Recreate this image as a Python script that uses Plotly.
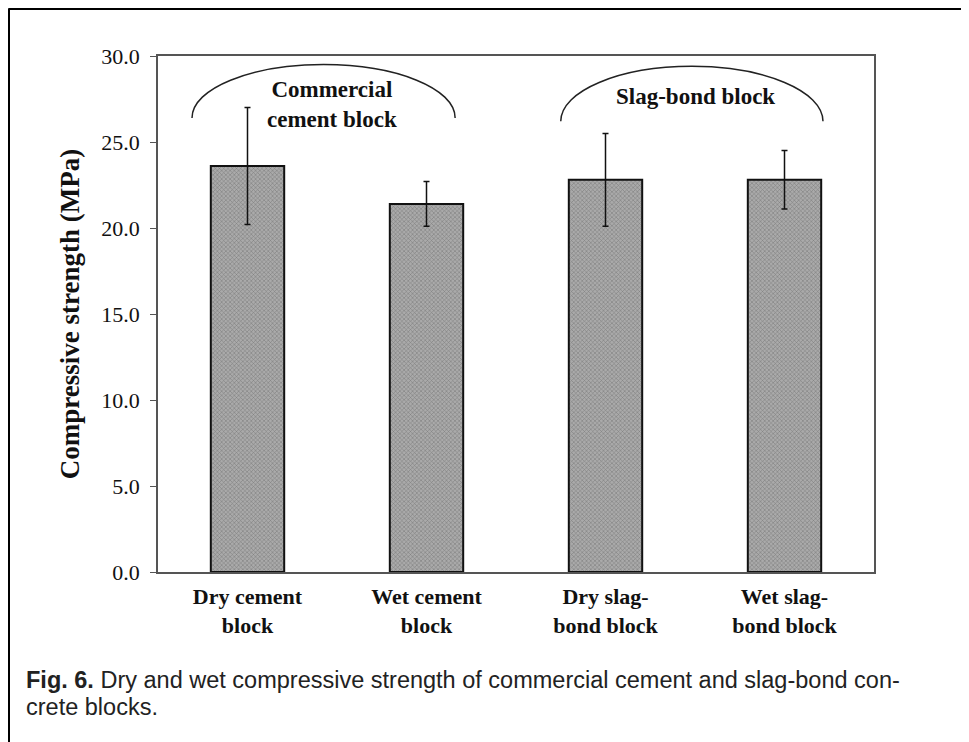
import plotly.graph_objects as go

categories = ["Dry cement<br>block", "Wet cement<br>block", "Dry slag-<br>bond block", "Wet slag-<br>bond block"]
strength = [23.6, 21.4, 22.8, 22.8]
error = [3.4, 1.3, 2.7, 1.7]
y_ticks = [0, 5, 10, 15, 20, 25, 30]
group_labels = ["Commercial<br>cement block", "Slag-bond block"]

W, H = 969, 742
OFF = 8  # page body margin
L, R, T, B = 158 - OFF, 874 - OFF, 56 - OFF, 572 - OFF

def px_x(p):
    return (p - OFF - L) / (R - L)

def px_y(p):
    return (B - (p - OFF)) / (B - T)

xs = list(range(len(categories)))

fig = go.Figure()
fig.add_trace(go.Bar(
    x=xs, y=strength,
    width=0.41,
    marker=dict(color="#aaaaaa", line=dict(color="#111111", width=2),
                pattern=dict(shape="x", size=3, solidity=0.35, fgcolor="#505050", bgcolor="#aaaaaa")),
    error_y=dict(type="data", array=error, visible=True, color="#111111", thickness=1.5, width=3),
    showlegend=False,
))

serif = "Liberation Serif, Times New Roman, serif"

def half_ellipse(x0, x1, yb, yt):
    cx = (x0 + x1) / 2
    rx = (x1 - x0) / 2
    ry = yt - yb
    k = 0.5523
    return (f"M {x0},{yb} C {x0},{yb + k*ry} {cx - k*rx},{yt} {cx},{yt} "
            f"C {cx + k*rx},{yt} {x1},{yb + k*ry} {x1},{yb}")

fx = lambda p: p / (R - L) - L / (R - L)          # figure-pixel x -> paper
fy = lambda p: (B - p) / (B - T)                  # figure-pixel y -> paper

shapes = [
    dict(type="path", xref="x", yref="y", path=half_ellipse(-0.31, 1.16, 26.4, 29.5),
         line=dict(color="#222222", width=1.5)),
    dict(type="path", xref="x", yref="y", path=half_ellipse(1.75, 3.215, 26.2, 29.4),
         line=dict(color="#222222", width=1.5)),
    # outer figure frame (top and left)
    dict(type="line", xref="paper", yref="paper", x0=fx(0.5), x1=fx(W), y0=fy(0.5), y1=fy(0.5),
         line=dict(color="black", width=3)),
    dict(type="line", xref="paper", yref="paper", x0=fx(0.5), x1=fx(0.5), y0=fy(0.5), y1=fy(H),
         line=dict(color="black", width=3)),
]

cap_font = dict(family="Liberation Sans, Arial, sans-serif", size=23.5, color="#222222")
annotations = [
    dict(x=0.47, y=27.2, xref="x", yref="y", text="<b>" + group_labels[0] + "</b>", showarrow=False,
         font=dict(family=serif, size=23, color="#111111"), align="center"),
    dict(x=2.5, y=27.65, xref="x", yref="y", text="<b>" + group_labels[1] + "</b>", showarrow=False,
         font=dict(family=serif, size=23, color="#111111"), align="center"),
    dict(x=px_x(24), y=px_y(680), xref="paper", yref="paper", xanchor="left", yanchor="middle",
         text="<b>Fig. 6.</b> Dry and wet compressive strength of commercial cement and slag-bond con-",
         showarrow=False, font=cap_font),
    dict(x=px_x(24), y=px_y(707), xref="paper", yref="paper", xanchor="left", yanchor="middle",
         text="crete blocks.", showarrow=False, font=cap_font),
]

fig.update_layout(
    width=W, height=H,
    margin=dict(l=L, r=W - R, t=T, b=H - B),
    paper_bgcolor="white", plot_bgcolor="white",
    shapes=shapes, annotations=annotations,
)
fig.update_xaxes(
    range=[-0.5, 3.5], tickvals=xs, ticktext=["<b>" + c + "</b>" for c in categories],
    showline=True, linecolor="#555555", linewidth=1.5, mirror=True, ticks="",
    showgrid=False, zeroline=False, ticklabelstandoff=4,
    tickfont=dict(family=serif, size=22, color="#111111"),
)
fig.update_yaxes(
    range=[0, 30], tickvals=y_ticks, tickformat=".1f",
    showline=True, linecolor="#555555", linewidth=1.5, mirror=True,
    ticks="outside", ticklen=6, tickcolor="#555555",
    showgrid=False, zeroline=False, ticklabelstandoff=6,
    tickfont=dict(family=serif, size=22, color="#111111"),
    title=dict(text="<b>Compressive strength (MPa)</b>", font=dict(family=serif, size=27, color="#111111"), standoff=14),
)

fig.write_html("out.html")
